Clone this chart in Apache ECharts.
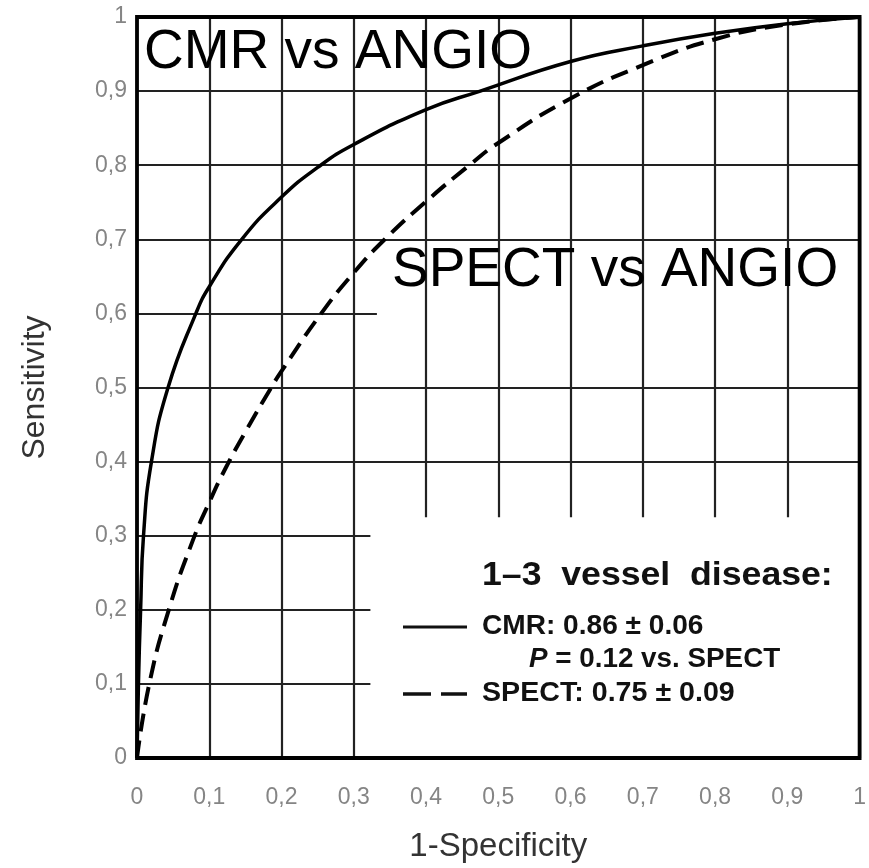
<!DOCTYPE html>
<html><head><meta charset="utf-8">
<script src="https://cdn.jsdelivr.net/npm/echarts@6/dist/echarts.min.js"></script>
<style>html,body{margin:0;padding:0;background:#fff}#c{width:869px;height:868px}</style>
</head><body><div id="c"></div>
<script>
// Tick labels (comma decimal)
const xTickLabels = ['0','0,1','0,2','0,3','0,4','0,5','0,6','0,7','0,8','0,9','1'];
const yTickLabels = ['0','0,1','0,2','0,3','0,4','0,5','0,6','0,7','0,8','0,9','1'];

// CMR vs ANGIO ROC curve (solid)
const cmrX = [0, 0.002, 0.005, 0.009, 0.02, 0.043, 0.0815, 0.1, 0.145, 0.2, 0.25, 0.3, 0.4, 0.475, 0.6, 0.7, 0.8, 0.9, 1];
const cmrY = [0, 0.1, 0.2, 0.3, 0.4, 0.5, 0.6, 0.636, 0.7, 0.757, 0.797, 0.828, 0.875, 0.9, 0.94, 0.961, 0.978, 0.991, 1];

// SPECT vs ANGIO ROC curve (dashed)
const spectX = [0, 0.017, 0.044, 0.077, 0.1, 0.122, 0.15, 0.184, 0.2, 0.255, 0.3, 0.343, 0.4, 0.46, 0.5, 0.6, 0.7, 0.8, 0.9, 1];
const spectY = [0, 0.1, 0.2, 0.293, 0.345, 0.39, 0.44, 0.497, 0.522, 0.6, 0.655, 0.7, 0.751, 0.8, 0.83, 0.89, 0.935, 0.97, 0.99, 1];

const FONT = 'Arial, "Liberation Sans", sans-serif';
const chart = echarts.init(document.getElementById('c'));

const option = {
  backgroundColor: '#fff',
  animation: false,
  grid: { left: 137, right: 2, top: 17, bottom: 109, show: false },
  xAxis: {
    type: 'value', min: 0, max: 1, interval: 0.1, z: 3,
    name: '1-Specificity', nameLocation: 'middle', nameGap: 72,
    nameTextStyle: { fontFamily: FONT, fontSize: 33, color: '#333' },
    axisLine: { show: false }, axisTick: { show: false },
    axisLabel: { fontFamily: FONT, fontSize: 23, color: '#858585', margin: 28,
      formatter: v => xTickLabels[Math.round(v * 10)] },
    splitLine: { show: true, lineStyle: { color: '#222', width: 2.2 } }
  },
  yAxis: {
    type: 'value', min: 0, max: 1, interval: 0.1, z: 1,
    name: 'Sensitivity', nameLocation: 'middle', nameGap: 86, nameRotate: 90,
    nameTextStyle: { fontFamily: FONT, fontSize: 32, color: '#333' },
    axisLine: { show: false }, axisTick: { show: false },
    axisLabel: { fontFamily: FONT, fontSize: 23, color: '#858585', margin: 10,
      formatter: v => yTickLabels[Math.round(v * 10)] },
    splitLine: { show: true, lineStyle: { color: '#222', width: 2.2 } }
  },
  series: [
    { name: 'CMR', type: 'line', z: 5, smooth: 0.5, symbol: 'none',
      lineStyle: { color: '#000', width: 3.5 },
      data: cmrX.map((x, i) => [x, cmrY[i]]) },
    { name: 'SPECT', type: 'line', z: 5, smooth: 0.5, symbol: 'none',
      lineStyle: { color: '#000', width: 4, type: [18, 9] },
      data: spectX.map((x, i) => [x, spectY[i]]) }
  ]
};
chart.setOption(option);

const P = (x, y) => chart.convertToPixel({ gridIndex: 0 }, [x, y]);
const p00 = P(0, 0), p11 = P(1, 1);
const y06 = P(0, 0.6)[1];
const eraseL = P(0.332, 0.6)[0];
const legTL = P(0.323, 0.325);

function txt(x, y, text, font, sx, extra) {
  return Object.assign({ type: 'text', z: 7, x: x, y: y, scaleX: sx || 1,
    style: { text: text, font: font, fill: '#111', verticalAlign: 'middle', align: 'left' } }, extra || {});
}

chart.setOption({
  graphic: [
    // erased part of the 0.6 gridline
    { type: 'rect', z: 2, silent: true,
      shape: { x: eraseL, y: y06 - 3, width: p11[0] - eraseL, height: 6 },
      style: { fill: '#fff' } },
    // legend box background
    { type: 'rect', z: 4, silent: true,
      shape: { x: legTL[0], y: legTL[1], width: p11[0] - legTL[0], height: p00[1] - legTL[1] },
      style: { fill: '#fff' } },
    // plot frame
    { type: 'rect', z: 6, silent: true,
      shape: { x: p00[0], y: p11[1], width: p11[0] - p00[0], height: p00[1] - p11[1] },
      style: { fill: 'none', stroke: '#000', lineWidth: 3.8 } },
    // annotations
    { type: 'text', z: 7, x: 144, y: 53,
      style: { text: 'CMR vs ANGIO', font: '55px ' + FONT, fill: '#000', verticalAlign: 'middle', align: 'left' } },
    { type: 'text', z: 7, x: 392, y: 271,
      style: { text: 'SPECT vs ANGIO', font: '55px ' + FONT, fill: '#000', verticalAlign: 'middle', align: 'left' } },
    // legend
    txt(482, 576, '1–3  vessel  disease:', 'bold 33px ' + FONT, 1.08),
    { type: 'line', z: 7, shape: { x1: 403, y1: 627, x2: 467, y2: 627 },
      style: { stroke: '#111', lineWidth: 3 } },
    txt(482, 627, 'CMR: 0.86 ± 0.06', 'bold 27px ' + FONT, 1.04),
    { type: 'text', z: 7, x: 529, y: 660, scaleX: 1.03,
      style: { text: '{i|P} = 0.12 vs. SPECT', font: 'bold 27px ' + FONT, fill: '#111', verticalAlign: 'middle', align: 'left',
        rich: { i: { font: 'italic bold 27px ' + FONT, fill: '#111' } } } },
    { type: 'line', z: 7, shape: { x1: 403, y1: 694, x2: 467, y2: 694 },
      style: { stroke: '#111', lineWidth: 3.5, lineDash: [28, 10] } },
    txt(482, 694, 'SPECT: 0.75 ± 0.09', 'bold 27px ' + FONT, 1.06)
  ]
});
</script></body></html>
